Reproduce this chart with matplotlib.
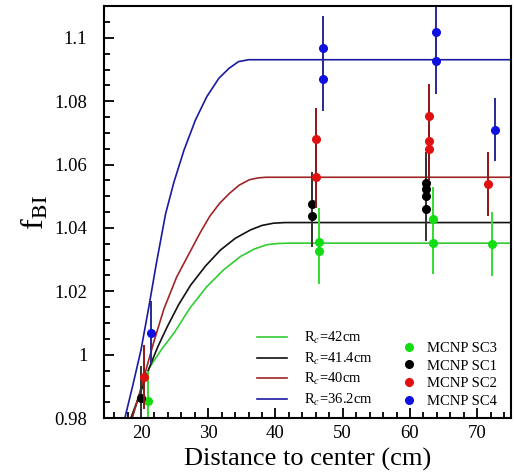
import matplotlib.pyplot as plt
from matplotlib.ticker import MultipleLocator

plt.rcParams['font.family'] = ['Liberation Serif', 'DejaVu Serif']
plt.rcParams['mathtext.fontset'] = 'stix'

# fitted curves (distance cm, f_BI)
fit_labels = ['R$_c$=42cm', 'R$_c$=41.4cm', 'R$_c$=40cm', 'R$_c$=36.2cm']
fit_x = [
    [18.6, 19.9, 21.2, 23.0, 24.9, 27.3, 29.8, 32.3, 34.8, 36.8, 38.7, 40.4, 42.0, 75.0],
    [18.5, 19.9, 21.2, 22.5, 23.9, 25.6, 27.4, 29.6, 31.8, 34.0, 36.3, 38.0, 39.7, 41.4, 75.0],
    [18.7, 19.6, 20.45, 21.9, 23.4, 25.3, 27.3, 28.8, 30.2, 31.7, 33.2, 34.6, 36.1, 37.4,
     38.6, 40.0, 75.0],
    [17.6, 18.8, 20.0, 21.2, 22.3, 23.66, 24.9, 26.4, 28.1, 29.8, 31.6, 33.1, 34.5, 36.0,
     36.2, 75.0],
]
fit_y = [
    [0.980, 0.988, 0.9957, 1.0015, 1.0068, 1.0148, 1.0215, 1.0268, 1.0310, 1.0333, 1.0347,
     1.0351, 1.0352, 1.0352],
    [0.980, 0.988, 0.9957, 1.0025, 1.0088, 1.0158, 1.0220, 1.0280, 1.0330, 1.0367, 1.0394,
     1.0408, 1.0415, 1.0417, 1.0417],
    [0.980, 0.9865, 0.993, 1.004, 1.0144, 1.0245, 1.0325, 1.0385, 1.0436, 1.0478, 1.051,
     1.0535, 1.0552, 1.0558, 1.056, 1.056, 1.056],
    [0.980, 0.9905, 1.0015, 1.0155, 1.029, 1.0445, 1.0545, 1.0646, 1.0741, 1.0815, 1.0873,
     1.0904, 1.0925, 1.0931, 1.0931, 1.0931],
]
fit_colors = ['#33cc33', '#111111', '#a02525', '#1a1aa0']

# MCNP simulation points
mc_labels = ['MCNP SC3', 'MCNP SC1', 'MCNP SC2', 'MCNP SC4']
mc_x = [
    [21.0, 46.5, 46.5, 63.4, 63.4, 72.2],
    [20.0, 45.5, 45.5, 62.4, 62.4, 62.4, 62.4],
    [20.4, 46.0, 46.0, 62.9, 62.9, 62.9, 71.6],
    [21.5, 47.0, 47.0, 63.9, 63.9, 72.6],
]
mc_y = [
    [0.9854, 1.0357, 1.0327, 1.0428, 1.0354, 1.0349],
    [0.9864, 1.0476, 1.0439, 1.0541, 1.0522, 1.0502, 1.0459],
    [0.993, 1.068, 1.0562, 1.0754, 1.0675, 1.065, 1.0539],
    [1.0069, 1.0969, 1.087, 1.102, 1.0927, 1.071],
]
mc_err = [
    [0.0095, 0.0105, 0.0105, 0.010, 0.010, 0.010],
    [0.010, 0.010, 0.010, 0.010, 0.010, 0.010, 0.010],
    [0.010, 0.010, 0.010, 0.010, 0.010, 0.010, 0.010],
    [0.010, 0.010, 0.010, 0.0105, 0.0105, 0.010],
]
mc_colors = ['#11dd11', '#000000', '#e01010', '#1010e0']
bar_colors = ['#33dd33', '#333333', '#901515', '#2a2a90']

fig = plt.figure(figsize=(5.16, 4.76), dpi=100)
ax = fig.add_axes([0.2016, 0.1218, 0.7884, 0.8652])

line_handles = []
for xs, ys, c, lab in zip(fit_x, fit_y, fit_colors, fit_labels):
    h, = ax.plot(xs, ys, color=c, lw=1.2, label=lab)
    line_handles.append(h)

pt_handles = []
for xs, ys, es, c, bc, lab in zip(mc_x, mc_y, mc_err, mc_colors, bar_colors, mc_labels):
    ax.errorbar(xs, ys, yerr=es, fmt='none', ecolor=bc, elinewidth=1.4, capsize=0)
    h, = ax.plot(xs, ys, 'o', color=c, ms=5.5, mec=c, ls='none', label=lab)
    pt_handles.append(h)

ax.set_xlim(14.5, 75)
ax.set_ylim(0.98, 1.11)
ax.xaxis.set_major_locator(MultipleLocator(10))
ax.xaxis.set_minor_locator(MultipleLocator(2))
ax.yaxis.set_minor_locator(MultipleLocator(0.005))
ax.set_yticks([0.98, 1.0, 1.02, 1.04, 1.06, 1.08, 1.1])
ax.set_yticklabels(['0.98', '1', '1.02', '1.04', '1.06', '1.08', '1.1'])
ax.tick_params(which='both', direction='in', top=False, right=False, labelsize=13.5, width=1.3)
ax.tick_params(which='major', length=7)
ax.tick_params(which='minor', length=4)
ax.tick_params(axis='y', pad=12)
ax.tick_params(axis='x', pad=5)
for s in ax.spines.values():
    s.set_linewidth(1.5)

ax.set_xlabel('Distance to center (cm)', fontsize=19, labelpad=4)
ax.set_ylabel('f$_{\\rm BI}$', fontsize=23, labelpad=3)

leg1 = ax.legend(line_handles, fit_labels, frameon=False, fontsize=10.5,
                 loc='lower left', bbox_to_anchor=(0.376, 0.025), borderpad=0,
                 borderaxespad=0, handlelength=2.05, handletextpad=1.2, labelspacing=0.3)
ax.add_artist(leg1)
ax.legend(pt_handles, mc_labels, frameon=False, fontsize=10.5,
          loc='lower left', bbox_to_anchor=(0.731, 0.025), borderpad=0,
          borderaxespad=0, handlelength=1.0, handletextpad=0.73, labelspacing=0.3)

fig.savefig('out.png', dpi=100)
